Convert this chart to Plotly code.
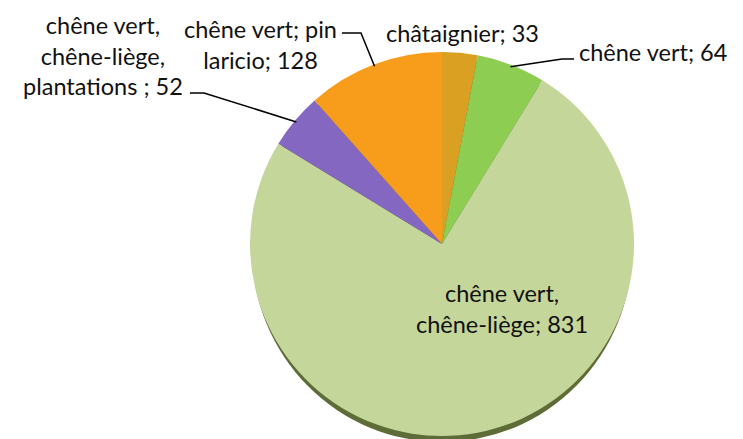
import math
import plotly.graph_objects as go

# ---- data ----
labels = ["châtaignier", "chêne vert", "chêne vert, chêne-liège",
          "chêne vert, chêne-liège, plantations ", "chêne vert; pin laricio"]
label_text = ["châtaignier; 33", "chêne vert; 64", "chêne vert,<br>chêne-liège; 831",
              "chêne vert,<br>chêne-liège,<br>plantations ; 52", "chêne vert; pin<br>laricio; 128"]
values = [33, 64, 831, 52, 128]
colors = ["#D9A021", "#8DCD52", "#C5D69B", "#8467C0", "#F89C1C"]

W, H = 743, 439
cx, cy, r = 442, 244, 192  # pie centre / radius in pixels

def px(x):
    return x / W

def py(y):
    return 1 - y / H

fig = go.Figure()
fig.add_trace(go.Pie(
    labels=labels, values=values, sort=False, direction="clockwise", rotation=0,
    marker=dict(colors=colors, line=dict(width=0)),
    textinfo="none", hoverinfo="label+value", showlegend=False,
    domain=dict(x=[px(cx - r), px(cx + r)], y=[py(cy + r), py(cy - r)]),
))

# shadow under the pie
fig.add_shape(type="circle", xref="paper", yref="paper", layer="below",
              x0=px(cx - r + 2), x1=px(cx + r - 2), y0=py(cy + r + 6), y1=py(cy - r + 6),
              fillcolor="#5E6C38", line=dict(width=0))

# slice mid-angles from the data
total = sum(values)
mids = []
acc = 0
for v in values:
    mids.append((acc + v / 2) / total * 2 * math.pi)
    acc += v

def edge(i, k=1.0):
    a = mids[i]
    return cx + k * r * math.sin(a), cy - k * r * math.cos(a)

font = dict(family="Lato, Open Sans, sans-serif", size=23.5, color="#111111")

# label positions (pixels) and leader elbows
label_pos = {0: (462, 33), 1: (653, 52), 2: (502, 308), 3: (103, 56), 4: (260, 44)}
elbows = {1: [(574, 59), (562, 59)], 3: [(190, 93), (204, 93)], 4: [(342, 33), (361, 33)]}

for i, (x, y) in label_pos.items():
    fig.add_annotation(x=px(x), y=py(y), xref="paper", yref="paper", text=label_text[i],
                       showarrow=False, font=font, align="center",
                       xanchor="center", yanchor="middle")

for i, pts in elbows.items():
    ex, ey = edge(i, 0.99)
    path_pts = pts + [(ex, ey)]
    d = "M " + " L ".join(f"{px(a)},{py(b)}" for a, b in path_pts)
    fig.add_shape(type="path", xref="paper", yref="paper", path=d,
                  line=dict(color="#000000", width=1.5))

fig.update_layout(width=W, height=H, margin=dict(l=0, r=0, t=0, b=0),
                  paper_bgcolor="white", plot_bgcolor="white")
fig.write_html("out.html", config={"displayModeBar": False},
               post_script="document.body.style.margin='0px';")
